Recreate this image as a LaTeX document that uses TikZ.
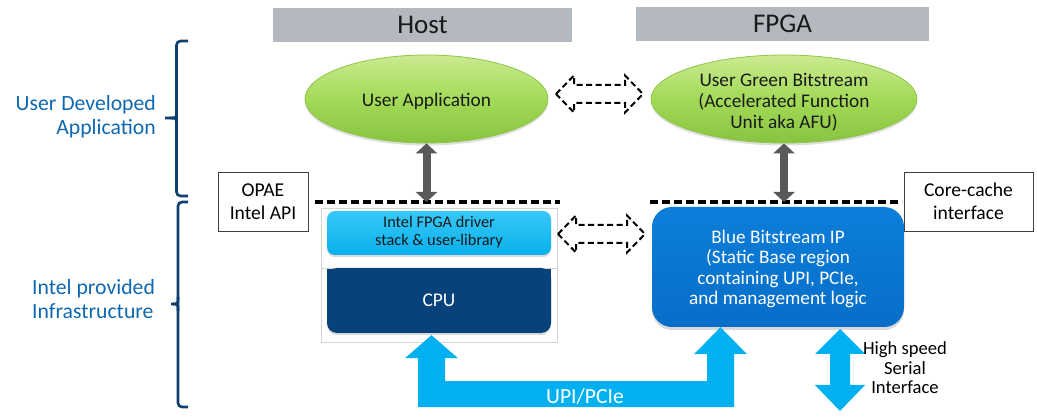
\documentclass[tikz,border=0pt]{standalone}
\usepackage{fontspec}
\setmainfont{Carlito}
\usetikzlibrary{shapes.geometric,arrows.meta,calc,shadows,backgrounds}
\newcommand{\setfs}[2]{\fontsize{#1}{#2}\selectfont}
\definecolor{hdrgray}{HTML}{B3B9BF}
\definecolor{bracecol}{HTML}{0E3F70}
\definecolor{labelblue}{HTML}{0E68B0}
\definecolor{greentop}{HTML}{CBEA90}
\definecolor{greenmid}{HTML}{A3DA58}
\definecolor{greenbot}{HTML}{88C440}
\definecolor{greenedge}{HTML}{8EC64A}
\definecolor{drvtop}{HTML}{38C8F8}
\definecolor{drvbot}{HTML}{08B0EC}
\definecolor{cpucol}{HTML}{07437A}
\definecolor{bbtop}{HTML}{0C7ED9}
\definecolor{bbbot}{HTML}{076EC8}
\definecolor{upicol}{HTML}{00B0F0}
\definecolor{arrgray}{HTML}{595959}
\definecolor{framegray}{HTML}{D4D4D4}
\definecolor{boxedge}{HTML}{404040}
\definecolor{txtdark}{HTML}{1A1A1A}
\tikzset{
  header/.style={fill=hdrgray, inner sep=0, minimum height=34pt, text=txtdark, font=\setfs{27}{30}},
  greenell/.style={ellipse, inner sep=0, minimum height=88pt, draw=greenedge, line width=0.8pt,
    top color=greentop, bottom color=greenbot, middle color=greenmid,
    drop shadow={shadow xshift=0pt, shadow yshift=-2.5pt, opacity=0.25}},
  elltext/.style={text=txtdark, font=\setfs{19.3}{21}, align=center, inner sep=0},
  apibox/.style={draw=boxedge, line width=0.8pt, fill=white, inner sep=0, minimum height=59pt,
    align=center, text=black, font=\setfs{19.6}{23}},
  sidelabel/.style={text=labelblue, inner sep=0, font=\setfs{21.7}{24}},
  bracepath/.style={draw=bracecol, line width=2.6pt},
  thickdash/.style={draw=black, line width=4pt, dash pattern=on 8pt off 4pt},
  grayarr/.style={draw=arrgray, line width=8pt,
    {Triangle[length=10pt,width=21pt]}-{Triangle[length=10pt,width=21pt]}},
  dasharr/.style={draw=black, line width=2pt, dash pattern=on 6pt off 3.5pt, line join=miter},
  frame/.style={draw=framegray, line width=0.8pt},
  drvbox/.style={rounded corners=8pt, inner sep=0, minimum width=224pt, minimum height=44pt,
    top color=drvtop, bottom color=drvbot,
    drop shadow={shadow xshift=0pt, shadow yshift=-2pt, opacity=0.3}},
  cpubox/.style={rounded corners=10pt, inner sep=0, minimum width=224pt, minimum height=65pt,
    fill=cpucol, text=white, font=\setfs{19.4}{22},
    drop shadow={shadow xshift=0pt, shadow yshift=-2pt, opacity=0.3}},
  bbbox/.style={rounded corners=20pt, inner sep=0, minimum width=252pt, minimum height=120pt,
    top color=bbtop, bottom color=bbbot,
    drop shadow={shadow xshift=0pt, shadow yshift=-3pt, opacity=0.3}},
  hollowarr/.pic={\path[dasharr] (-43.5,0) -- (-25.5,-18.5) -- (-25.5,-9) -- (25.5,-9) -- (25.5,-18.5)
      -- (43.5,0) -- (25.5,18.5) -- (25.5,9) -- (-25.5,9) -- (-25.5,18.5) -- cycle;},
  bluedbl/.pic={\fill[upicol] (0,-41) -- (25,-16) -- (10,-16) -- (10,15) -- (25,15) -- (0,41)
      -- (-25,15) -- (-10,15) -- (-10,-16) -- (-25,-16) -- cycle;}
}
\begin{document}
\begin{tikzpicture}[x=1pt,y=-1pt]
\useasboundingbox (0,0) rectangle (1037,419);

% headers
\node[header, minimum width=299pt] (host) at (422.5,25) {Host};
\node[header, minimum width=293pt] (fpga) at (782.5,24) {FPGA};

% side labels
\node[sidelabel, anchor=east, align=right] (udlab) at (156,117) {User Developed\\Application};
\node[sidelabel, anchor=west, align=left] (iplab) at (32,299) {Intel provided\\Infrastructure};

% braces
\draw[bracepath, rounded corners=4pt] (188,41) -- (176.5,41) -- (176.5,196) -- (188,196);
\draw[bracepath, rounded corners=3pt] (176.5,111) -- (176.5,118) -- (165,118);
\draw[bracepath, rounded corners=3pt] (176.5,125) -- (176.5,118) -- (170,118);
\draw[bracepath, rounded corners=4pt] (188,202) -- (178,202) -- (178,407) -- (188,407);
\draw[bracepath, rounded corners=3pt] (178,297) -- (178,304) -- (171,304);
\draw[bracepath, rounded corners=3pt] (178,311) -- (178,304) -- (173,304);

% ellipses
\node[greenell, minimum width=243pt] (ua) at (426.5,99) {};
\node[elltext] (uatext) at ($(ua.center)+(0,2.5)$) {User Application};
\node[greenell, minimum width=266pt] (afu) at (784,99) {};
\node[elltext] (afutext) at ($(afu.center)+(0,3)$) {User Green Bitstream\\(Accelerated Function\\Unit aka AFU)};

% API boxes
\node[apibox, minimum width=90pt] (opae) at (263,201.5) {OPAE\\Intel API};
\node[apibox, minimum width=129pt] (cc) at (968.5,201.5) {Core-cache\\interface};

% dashed interface lines
\coordinate (dl1) at (315,202);
\coordinate (dl2) at (560,202);
\coordinate (dr1) at (650,202);
\coordinate (dr2) at (902,202);

% frames and boxes
\draw[frame] (321,208) rectangle (557,268);
\draw[frame] (321,268) rectangle (557,342);
\node[drvbox] (drv) at (439,233) {};
\node[align=center, text=txtdark, font=\setfs{16.3}{18}, inner sep=0] (drvtext) at ($(drv.center)+(0,-1)$) {Intel FPGA driver\\stack \& user-library};
\node[cpubox] (cpu) at (439,300.5) {CPU};
\begin{scope}[on background layer]
  \fill[cpucol] (cpu.north west) rectangle (cpu.east);
\end{scope}
\node[bbbox] (bb) at (778,267) {};
\node[align=center, text=white, font=\setfs{19.2}{20.5}, inner sep=0] (bbtext) at ($(bb.center)+(0,2)$) {Blue Bitstream IP\\(Static Base region\\containing UPI, PCIe,\\and management logic};

\draw[thickdash] (dl1) -- (dl2);
\draw[thickdash] (dr1) -- (dr2);

% gray vertical arrows
\draw[grayarr] (ua.south) -- (ua.south |- dl1);
\draw[grayarr] (afu.south) -- (afu.south |- dr1);

% dashed hollow arrows
\coordinate (ha1) at ($(ua.east)!0.5!(afu.west)+(0,-5)$);
\coordinate (ha2) at ($(drv.east)!0.5!(drv.east -| bb.west)+(0,1)$);
\pic at (ha1) {hollowarr};
\pic at (ha2) {hollowarr};

% UPI/PCIe U-shaped arrow
\coordinate (lt) at ($(cpu.south)+(-7.5,2)$);
\coordinate (rt) at ($(bb.south)+(-57.5,0)$);
\fill[upicol] (lt) -- ($(lt)+(26.5,23)$) -- ($(lt)+(13.5,23)$) -- ($(lt)+(13.5,46)$)
  -- ($(rt)+(-13.5,54)$) -- ($(rt)+(-13.5,27)$) -- ($(rt)+(-26.5,27)$) -- (rt)
  -- ($(rt)+(26.5,27)$) -- ($(rt)+(13.5,27)$) -- ($(rt)+(13.5,80)$)
  -- ($(lt)+(-13.5,72)$) -- ($(lt)+(-13.5,23)$) -- ($(lt)+(-26.5,23)$) -- cycle;
\node[text=white, font=\setfs{21.6}{24}, inner sep=0] (upi) at (585,396) {UPI/PCIe};

% high speed serial arrow
\pic at (840,370) {bluedbl};
\node[align=center, text=black, font=\setfs{18.6}{19.5}, inner sep=0] (hss) at (905,368) {High speed\\Serial\\Interface};
\end{tikzpicture}
\end{document}
